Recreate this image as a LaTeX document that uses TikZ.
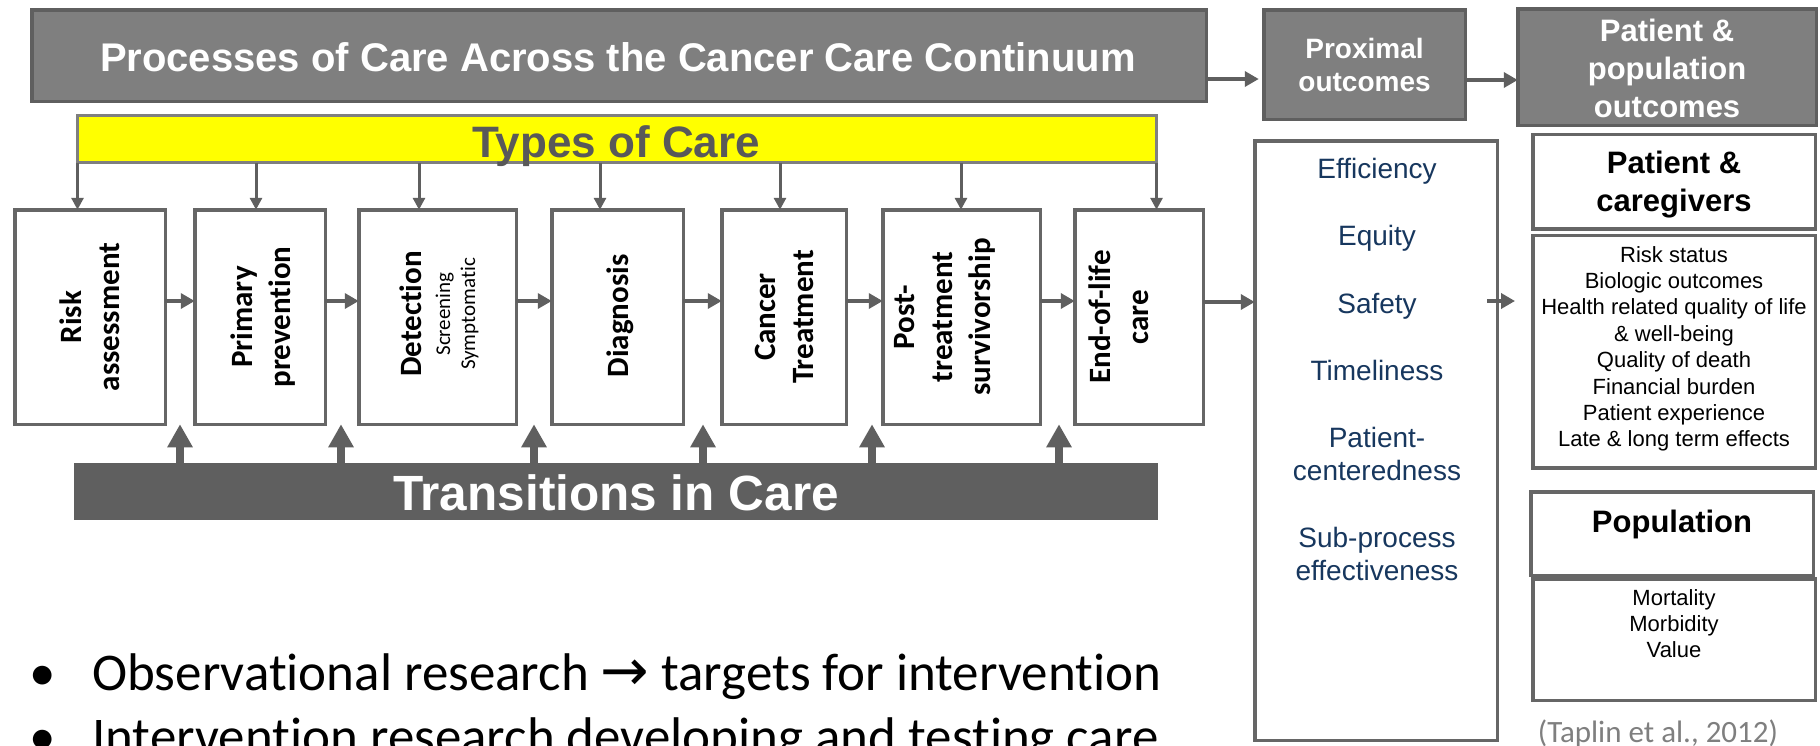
\documentclass[tikz,border=0pt]{standalone}
\usepackage{fontspec}
\setmainfont{Liberation Sans}
\newfontfamily\calfont[Ligatures=NoCommon]{Carlito}
\newfontfamily\arrfont{DejaVu Sans}
\usetikzlibrary{arrows.meta}
\definecolor{boxgray}{HTML}{7F7F7F}
\definecolor{edgegray}{HTML}{5F5F5F}
\definecolor{linegray}{HTML}{666666}
\definecolor{arrgray}{HTML}{5F5F5F}
\definecolor{transgray}{HTML}{5F5F5F}
\definecolor{typesedge}{HTML}{7F7F7F}
\definecolor{typestext}{HTML}{595959}
\definecolor{navy}{HTML}{17375E}
\definecolor{citegray}{HTML}{7F7F7F}
\definecolor{typesyellow}{HTML}{FFFF00}
\newcommand{\setfs}[2]{\fontsize{#1}{#2}\selectfont}
\begin{document}
\begin{tikzpicture}[x=1pt,y=-1pt,
  wbox/.style={draw=linegray, line width=3.5pt, fill=white, inner sep=0pt, outer sep=0pt},
  gbox/.style={draw=edgegray, line width=3.5pt, fill=boxgray, inner sep=0pt, outer sep=0pt},
  whead/.style={inner sep=0pt, text=white, font=\bfseries\setfs{31}{38}, align=center},
  ptxt/.style={rotate=90, anchor=base, inner sep=0pt, font=\calfont\bfseries\setfs{31}{38}},
  stxt/.style={rotate=90, anchor=base, inner sep=0pt, font=\calfont\setfs{21}{25}},
  etxt/.style={anchor=base, inner sep=0pt, text=navy, font=\setfs{28}{33}},
  ltxt/.style={anchor=base, inner sep=0pt, font=\setfs{22}{26}},
  btxt/.style={inner sep=0pt, font=\bfseries\setfs{31}{38}, align=center},
  harr/.style={draw=arrgray, line width=4pt, -{Triangle[length=14pt,width=15pt]}},
  darr/.style={draw=arrgray, line width=3pt, -{Triangle[length=12pt,width=12pt]}},
  uarr/.style={draw=arrgray, line width=8pt, -{Triangle[length=23pt,width=24pt]}},
  bul/.style={anchor=base west, inner sep=0pt, font=\calfont\setfs{53}{63}}
]
\useasboundingbox (0,0) rectangle (1820,745);
\fill[white] (0,0) rectangle (1820,745);

% ---- top header row
\node[gbox, minimum width=1174.5pt, minimum height=91.5pt] (proc) at (619,55.5) {};
\node[anchor=base, inner sep=0pt, text=white, font=\bfseries\setfs{40}{46}] (proct) at (618,71) {Processes of Care Across the Cancer Care Continuum};
\node[gbox, minimum width=201.5pt, minimum height=109.5pt] (prox) at (1364.5,64.5) {};
\node[whead, font=\bfseries\setfs{28}{32.5}] (proxt) at (1364.5,65) {Proximal\\outcomes};
\node[gbox, minimum width=298.5pt, minimum height=116.5pt] (pop) at (1667,67) {};
\node[whead] (popt) at (1667,68) {Patient \&\\population\\outcomes};

% ---- types of care
\node[draw=typesedge, line width=3pt, fill=typesyellow, minimum width=1079pt, minimum height=47pt, inner sep=0pt, outer sep=0pt] (types) at (617,139) {};
\node[anchor=base, inner sep=0pt, text=typestext, font=\bfseries\setfs{44}{48}] (typest) at (616,157) {Types of Care};

% ---- process boxes
\node[wbox, minimum width=150.5pt, minimum height=214.5pt] (risk) at (90,317) {};
\node[wbox, minimum width=130.5pt, minimum height=214.5pt] (prim) at (260,317) {};
\node[wbox, minimum width=157.5pt, minimum height=214.5pt] (det) at (437.5,317) {};
\node[wbox, minimum width=131.5pt, minimum height=214.5pt] (diag) at (617.5,317) {};
\node[wbox, minimum width=124.5pt, minimum height=214.5pt] (canc) at (784,317) {};
\node[wbox, minimum width=157.5pt, minimum height=214.5pt] (post) at (961.5,317) {};
\node[wbox, minimum width=128.5pt, minimum height=214.5pt] (eol) at (1139,317) {};

\node[ptxt] (risk1) at (81,317) {Risk};
\node[ptxt] (risk2) at (119.5,317) {assessment};
\node[ptxt] (prim1) at (252,317) {Primary};
\node[ptxt] (prim2) at (290,317) {prevention};
\node[ptxt] (det1) at (421.5,314) {Detection};
\node[stxt] (det2) at (450,314) {Screening};
\node[stxt] (det3) at (475,314) {Symptomatic};
\node[ptxt] (diag1) at (628,316) {Diagnosis};
\node[ptxt] (canc1) at (775,317) {Cancer};
\node[ptxt] (canc2) at (813,317) {Treatment};
\node[ptxt] (post1) at (914,317) {Post-};
\node[ptxt] (post2) at (952,317) {treatment};
\node[ptxt] (post3) at (990,317) {survivorship};
\node[ptxt] (eol1) at (1110,317) {End-of-life};
\node[ptxt] (eol2) at (1148,317) {care};

% ---- transitions
\node[fill=transgray, minimum width=1084pt, minimum height=57pt, inner sep=0pt, outer sep=0pt] (trans) at (616,491.5) {};
\node[anchor=base, inner sep=0pt, text=white, font=\bfseries\setfs{49.5}{54}] (transt) at (616,510) {Transitions in Care};

% ---- proximal outcomes list
\node[wbox, minimum width=242.5pt, minimum height=599.5pt] (eff) at (1376,440.5) {};
\node[etxt] (e1) at (1377,178) {Efficiency};
\node[etxt] (e2) at (1377,245) {Equity};
\node[etxt] (e3) at (1377,313) {Safety};
\node[etxt] (e4) at (1377,380) {Timeliness};
\node[etxt] (e5) at (1377,447) {Patient-};
\node[etxt] (e6) at (1377,480) {centeredness};
\node[etxt] (e7) at (1377,547) {Sub-process};
\node[etxt] (e8) at (1377,580) {effectiveness};

% ---- patient & population outcomes
\node[wbox, minimum width=282.5pt, minimum height=94.5pt] (care) at (1674,181.5) {};
\node[btxt] (caret) at (1674,184.5) {Patient \&\\caregivers};
\node[wbox, minimum width=282.5pt, minimum height=232.5pt] (list) at (1674,351.5) {};
\node[ltxt] (l1) at (1674,262) {Risk status};
\node[ltxt] (l2) at (1674,288.4) {Biologic outcomes};
\node[ltxt] (l3) at (1674,314.8) {Health related quality of life};
\node[ltxt] (l4) at (1674,341.2) {\& well-being};
\node[ltxt] (l5) at (1674,367.6) {Quality of death};
\node[ltxt] (l6) at (1674,394) {Financial burden};
\node[ltxt] (l7) at (1674,420.4) {Patient experience};
\node[ltxt] (l8) at (1674,446.8) {Late \& long term effects};

\node[wbox, minimum width=282.5pt, minimum height=83.5pt] (popu) at (1672,533.5) {};
\node[anchor=base, inner sep=0pt, font=\bfseries\setfs{31}{33}] (poput) at (1672,532) {Population};
\node[wbox, minimum width=282.5pt, minimum height=121.5pt] (mort) at (1674,639.5) {};
\node[ltxt] (m1) at (1674,605) {Mortality};
\node[ltxt] (m2) at (1674,631) {Morbidity};
\node[ltxt] (m3) at (1674,657) {Value};

\node[anchor=base, inner sep=0pt, text=citegray, font=\calfont\setfs{31}{36}] (cite) at (1658,742) {(Taplin et al., 2012)};

% ---- bullets
\node[anchor=base, inner sep=0pt, font=\calfont\setfs{53}{63}] (b1) at (43,690) {•};
\node[bul] (b1t) at (92,690) {Observational research {\arrfont\setfs{58}{63}→} targets for intervention};
\node[anchor=base, inner sep=0pt, font=\calfont\setfs{53}{63}] (b2) at (43,754) {•};
\node[bul] (b2t) at (92,754) {Intervention research developing and testing care};

% ---- connectors: header row
\draw[harr, shorten >=5pt] (proc.east |- 0,79) -- (prox.west |- 0,79);
\draw[harr] (prox.east |- 0,80) -- (pop.west |- 0,80);

% ---- types of care down arrows
\draw[darr] (types.south west) -- (types.south west |- risk.north);
\draw[darr] (types.south -| 256,0) -- (prim.north -| 256,0);
\draw[darr] (types.south -| 419,0) -- (det.north -| 419,0);
\draw[darr] (types.south -| 600,0) -- (diag.north -| 600,0);
\draw[darr] (types.south -| 780,0) -- (canc.north -| 780,0);
\draw[darr] (types.south -| 961,0) -- (post.north -| 961,0);
\draw[darr] (types.south east) -- (types.south east |- eol.north);

% ---- process chain
\draw[harr] (risk.east |- 0,301) -- (prim.west |- 0,301);
\draw[harr] (prim.east |- 0,301) -- (det.west |- 0,301);
\draw[harr] (det.east |- 0,301) -- (diag.west |- 0,301);
\draw[harr] (diag.east |- 0,301) -- (canc.west |- 0,301);
\draw[harr] (canc.east |- 0,301) -- (post.west |- 0,301);
\draw[harr] (post.east |- 0,301) -- (eol.west |- 0,301);
\draw[harr] (eol.east |- 0,302) -- (eff.west |- 0,302);

% ---- proximal -> patient outcomes
\coordinate (effout) at (1487,301);
\coordinate (listin) at (1515,301);
\draw[harr] (effout) -- (listin);

% ---- transitions up arrows
\draw[uarr] (trans.north -| 180,0) -- (risk.south -| 180,0);
\draw[uarr] (trans.north -| 341,0) -- (prim.south -| 341,0);
\draw[uarr] (trans.north -| 534,0) -- (det.south -| 534,0);
\draw[uarr] (trans.north -| 703,0) -- (diag.south -| 703,0);
\draw[uarr] (trans.north -| 872,0) -- (canc.south -| 872,0);
\draw[uarr] (trans.north -| 1059,0) -- (post.south -| 1059,0);
\end{tikzpicture}
\end{document}
